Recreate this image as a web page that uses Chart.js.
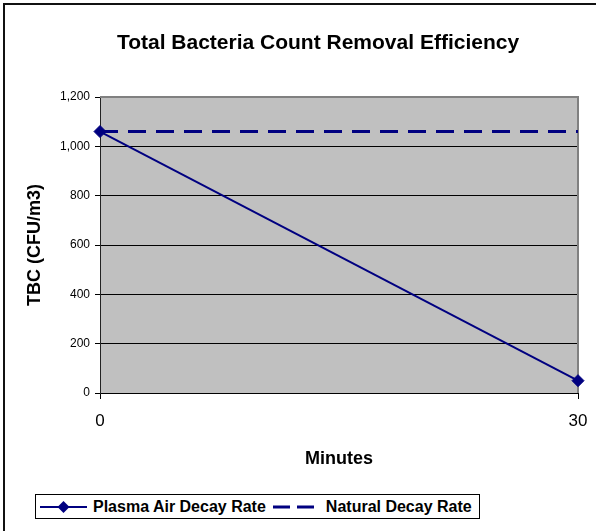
<!DOCTYPE html>
<html>
<head>
<meta charset="utf-8">
<script src="https://cdn.jsdelivr.net/npm/chart.js@4.4.0/dist/chart.umd.min.js"></script>
<style>
  body { margin: 0; background: #fff; overflow: hidden; }
  #wrap { position: relative; width: 596px; height: 531px; font-family: "Liberation Sans", Arial, sans-serif; }
  #chart { position: absolute; left: 0; top: 0; }
  #title { position: absolute; left: 0; width: 636px; top: 29px; text-align: center; font-weight: bold; font-size: 21px; line-height: 26px; color: #000; }
  #legend { position: absolute; left: 35px; top: 494px; width: 445px; height: 25px; box-sizing: border-box; border: 1px solid #000; background: #fff; display: flex; align-items: center; padding-left: 4px; font-weight: bold; font-size: 16px; color: #000; }
  #legend .item { display: flex; align-items: center; }
  #legend svg { display: block; margin-right: 6px; }
  #legend .item + .item { margin-left: 7px; }
</style>
</head>
<body>
<div id="wrap">
  <canvas id="chart" width="596" height="531"></canvas>
  <div id="title">Total Bacteria Count Removal Efficiency</div>
  <div id="legend"></div>
</div>
<script>
const minutes = ["0", "30"];
const plasmaAirDecay = [1060, 50];
const naturalDecay = [1060, 1060];
const seriesNames = ["Plasma Air Decay Rate", "Natural Decay Rate"];
const NAVY = "#000080";

Chart.defaults.font.family = '"Liberation Sans", Arial, sans-serif';
Chart.defaults.color = "#000";

// plot background, grey top/right border and the outer chart frame
const plotFrame = {
    id: "plotFrame",
    beforeDraw(chart) {
        const { ctx, chartArea: a } = chart;
        ctx.save();
        ctx.fillStyle = "#fff";
        ctx.fillRect(0, 0, chart.width, chart.height);
        ctx.strokeStyle = "#111";
        ctx.lineWidth = 2;
        ctx.strokeRect(4, 4, chart.width + 40, chart.height + 40);
        ctx.fillStyle = "#c0c0c0";
        ctx.fillRect(a.left, a.top, a.right - a.left, a.bottom - a.top);
        ctx.restore();
    },
    beforeDatasetsDraw(chart) {
        const { ctx, chartArea: a } = chart;
        ctx.save();
        ctx.strokeStyle = "#808080";
        ctx.lineWidth = 2;
        ctx.beginPath();
        ctx.moveTo(a.left, a.top);
        ctx.lineTo(a.right, a.top);
        ctx.lineTo(a.right, a.bottom);
        ctx.stroke();
        ctx.restore();
    }
};

const chart = new Chart(document.getElementById("chart"), {
    type: "line",
    data: {
        labels: minutes,
        datasets: [
            {
                label: seriesNames[0],
                data: plasmaAirDecay,
                borderColor: NAVY,
                backgroundColor: NAVY,
                borderWidth: 2,
                pointStyle: "rectRot",
                pointRadius: 6,
                pointBorderWidth: 1,
                pointBackgroundColor: NAVY,
                tension: 0,
                clip: false,
            },
            {
                label: seriesNames[1],
                data: naturalDecay,
                borderColor: NAVY,
                borderWidth: 3,
                borderDash: [18, 10],
                pointRadius: 0,
                tension: 0,
                clip: false,
            },
        ],
    },
    options: {
        responsive: false,
        animation: false,
        events: [],
        layout: { padding: { left: 4, right: 18, top: 97, bottom: 61 } },
        plugins: {
            legend: { display: false },
            title: { display: false },
            tooltip: { enabled: false },
        },
        scales: {
            x: {
                type: "category",
                offset: false,
                grid: { drawOnChartArea: false, drawTicks: true, tickLength: 6, color: "#000" },
                border: { color: "#000", width: 1 },
                ticks: { font: { size: 17 }, padding: 12, maxRotation: 0, color: "#000" },
                title: { display: true, text: "Minutes", font: { size: 18, weight: "bold" }, padding: { top: 5, bottom: 0 }, color: "#000" },
                afterFit(scale) { scale.paddingRight = 0; },
            },
            y: {
                min: 0,
                max: 1200,
                ticks: {
                    stepSize: 200,
                    font: { size: 12 },
                    padding: 5,
                    color: "#000",
                    callback: v => v.toLocaleString("en-US"),
                },
                grid: { color: "#000", lineWidth: 1, tickLength: 5 },
                border: { color: "#222", width: 1 },
                title: { display: true, text: "TBC (CFU/m3)", font: { size: 18, weight: "bold" }, padding: { top: 20, bottom: 0 }, color: "#000" },
                afterFit(scale) { scale.width = 96; },
            },
        },
    },
    plugins: [plotFrame],
});

// legend drawn as html, symbols follow the dataset styles
function buildLegend() {
    const box = document.getElementById("legend");
    chart.data.datasets.forEach(ds => {
        const item = document.createElement("div");
        item.className = "item";
        const ns = "http://www.w3.org/2000/svg";
        const svg = document.createElementNS(ns, "svg");
        svg.setAttribute("width", "47");
        svg.setAttribute("height", "16");
        const line = document.createElementNS(ns, "line");
        line.setAttribute("x1", "0");
        line.setAttribute("x2", "47");
        line.setAttribute("y1", "8");
        line.setAttribute("y2", "8");
        line.setAttribute("stroke", ds.borderColor);
        line.setAttribute("stroke-width", ds.borderWidth);
        if (ds.borderDash) line.setAttribute("stroke-dasharray", "17 7");
        svg.appendChild(line);
        if (ds.pointRadius > 0) {
            const d = document.createElementNS(ns, "polygon");
            d.setAttribute("points", "23.5,2 29.5,8 23.5,14 17.5,8");
            d.setAttribute("fill", ds.pointBackgroundColor);
            svg.appendChild(d);
        }
        const label = document.createElement("span");
        label.textContent = ds.label;
        item.appendChild(svg);
        item.appendChild(label);
        box.appendChild(item);
    });
}
buildLegend();
</script>
</body>
</html>
